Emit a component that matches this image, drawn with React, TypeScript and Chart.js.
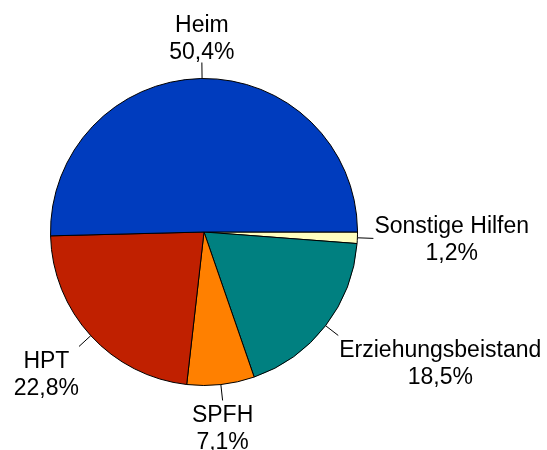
import React, { useEffect, useRef } from "react";
import { Chart, registerables } from "chart.js";

Chart.register(...registerables);

const categories = ["Sonstige Hilfen", "Erziehungsbeistand", "SPFH", "HPT", "Heim"];
const values = [1.2, 18.5, 7.1, 22.8, 50.4];
const valueLabels = ["1,2%", "18,5%", "7,1%", "22,8%", "50,4%"];
const colors = ["#FFFFC0", "#008080", "#FF8000", "#C02000", "#003CBE"];

const FONT = "23px 'Liberation Sans', Arial, sans-serif";

const outsideLabels = {
  id: "outsideLabels",
  afterDatasetsDraw(chart: any) {
    const ctx = chart.ctx;
    const meta = chart.getDatasetMeta(0);
    ctx.save();
    ctx.font = FONT;
    ctx.fillStyle = "#000";
    ctx.strokeStyle = "#000";
    ctx.lineWidth = 1;
    const lineH = 27;
    meta.data.forEach((arc: any, i: number) => {
      const { x, y, startAngle, endAngle, outerRadius } = arc.getProps(
        ["x", "y", "startAngle", "endAngle", "outerRadius"],
        true
      );
      const mid = (startAngle + endAngle) / 2;
      const c = Math.cos(mid);
      const s = Math.sin(mid);
      const sx = x + c * outerRadius;
      const sy = y + s * outerRadius;
      const ex = x + c * (outerRadius + 16);
      const ey = y + s * (outerRadius + 16);
      ctx.beginPath();
      ctx.moveTo(sx, sy);
      ctx.lineTo(ex, ey);
      ctx.stroke();

      const lines = [categories[i], valueLabels[i]];
      const widths = lines.map((l) => ctx.measureText(l).width);
      const bw = Math.max(...widths);
      let cx: number;
      if (c > 0.3) cx = ex + 1 + bw / 2;
      else if (c < -0.3) cx = ex - bw / 2;
      else cx = ex;
      const capH = 16;
      let b1: number;
      if (s < -0.5) b1 = ey - 4 - lineH;
      else if (s > 0.3) b1 = ey + 6 + capH;
      else b1 = ey - (lineH + capH) / 2 + capH;
      ctx.textAlign = "center";
      ctx.textBaseline = "alphabetic";
      lines.forEach((l, k) => ctx.fillText(l, cx, b1 + k * lineH));
    });
    ctx.restore();
  },
};

export default function App() {
  const ref = useRef<HTMLCanvasElement | null>(null);
  useEffect(() => {
    document.body.style.margin = "0";
    const chart = new Chart(ref.current as HTMLCanvasElement, {
      type: "pie",
      data: {
        labels: categories,
        datasets: [
          {
            data: values,
            backgroundColor: colors,
            borderColor: "#000",
            borderWidth: 1,
          },
        ],
      },
      options: {
        responsive: false,
        animation: false,
        rotation: 90,
        layout: { padding: { left: 50, right: 189, top: 78, bottom: 64 } },
        plugins: {
          legend: { display: false },
          tooltip: { enabled: false },
          title: { display: false },
        },
      },
      plugins: [outsideLabels],
    });
    return () => chart.destroy();
  }, []);
  return (
    <div style={{ position: "fixed", left: 0, top: 0, width: 547, height: 450, background: "#fff" }}>
      <canvas ref={ref} width={547} height={450} style={{ width: 547, height: 450 }} />
    </div>
  );
}
